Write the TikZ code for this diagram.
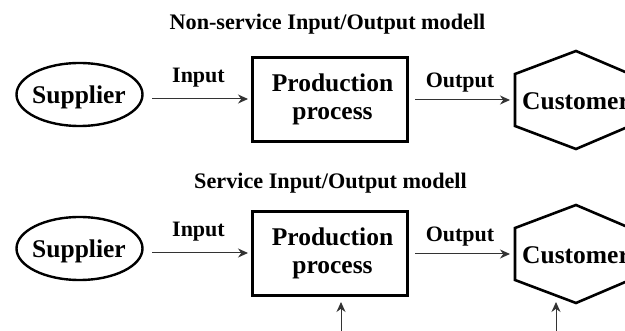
\documentclass[tikz,border=0pt]{standalone}
\usepackage{fontspec}
\setmainfont{Liberation Serif}
\usetikzlibrary{arrows.meta,shapes.geometric}
\tikzset{
 ttl/.style={font=\fontsize{22.2}{24}\selectfont\bfseries,inner sep=0},
 lbl/.style={font=\fontsize{22}{26}\selectfont\bfseries,inner sep=0},
 big/.style={font=\fontsize{25.5}{28}\selectfont\bfseries,inner sep=0,align=center},
 supp/.style={draw,line width=2.4pt,ellipse,minimum width=126pt,minimum height=63pt,inner sep=0},
 prc/.style={draw,line width=3pt,minimum width=155pt,minimum height=84pt,inner sep=0},
 conn/.style={-{Stealth[length=10pt,width=9pt]},line width=1pt,draw=black!80,fill=black!80},
 hex/.style={line width=2.6pt,line join=miter},
}
\begin{document}
\begin{tikzpicture}[x=1pt,y=-1pt]
\useasboundingbox (0,0) rectangle (625,331);
\fill[white] (0,0) rectangle (625,331);
\clip (0,0) rectangle (625,331);
\node[ttl] (t1) at (327.5,24) {Non-service Input/Output modell};
\node[ttl] (t2) at (330.5,183) {Service Input/Output modell};
% top
\node[supp] (s1) at (79.5,94.5) {};
\node[big] (st1) at (79,97) {Supplier};
\node[prc] (p1) at (330,99.5) {};
\node[big] (pt1) at (332.5,99.5) {Production\\process};
\draw[hex] (515,74)--(576,51)--(637,77)--(637,123)--(576,149)--(515,126)--cycle;
\node[big,anchor=west] (c1) at (522,101) {Customer};
\node[lbl] (i1) at (198.5,78) {Input};
\node[lbl] (o1) at (460,83) {Output};
\coordinate (a1s) at (152,99);
\coordinate (a1e) at (248,99);
\coordinate (b1s) at (415,100);
\coordinate (b1e) at (510,100);
\draw[conn] (a1s) -- (a1e);
\draw[conn] (b1s) -- (b1e);
% bottom
\node[supp] (s2) at (79.5,248.5) {};
\node[big] (st2) at (79,251) {Supplier};
\node[prc] (p2) at (330,253.5) {};
\node[big] (pt2) at (332.5,253.5) {Production\\process};
\draw[hex] (515,228)--(576,205)--(637,231)--(637,277)--(576,303)--(515,280)--cycle;
\node[big,anchor=west] (c2) at (522,255) {Customer};
\node[lbl] (i2) at (198.5,232) {Input};
\node[lbl] (o2) at (460,237) {Output};
\coordinate (a2s) at (152,253);
\coordinate (a2e) at (248,253);
\coordinate (b2s) at (415,254);
\coordinate (b2e) at (510,254);
\draw[conn] (a2s) -- (a2e);
\draw[conn] (b2s) -- (b2e);
\coordinate (u1) at (341,331);
\coordinate (u2) at (556,331);
\coordinate (v1) at (341,302);
\coordinate (v2) at (556,302);
\draw[conn] (u1) -- (v1);
\draw[conn] (u2) -- (v2);
\end{tikzpicture}
\end{document}
